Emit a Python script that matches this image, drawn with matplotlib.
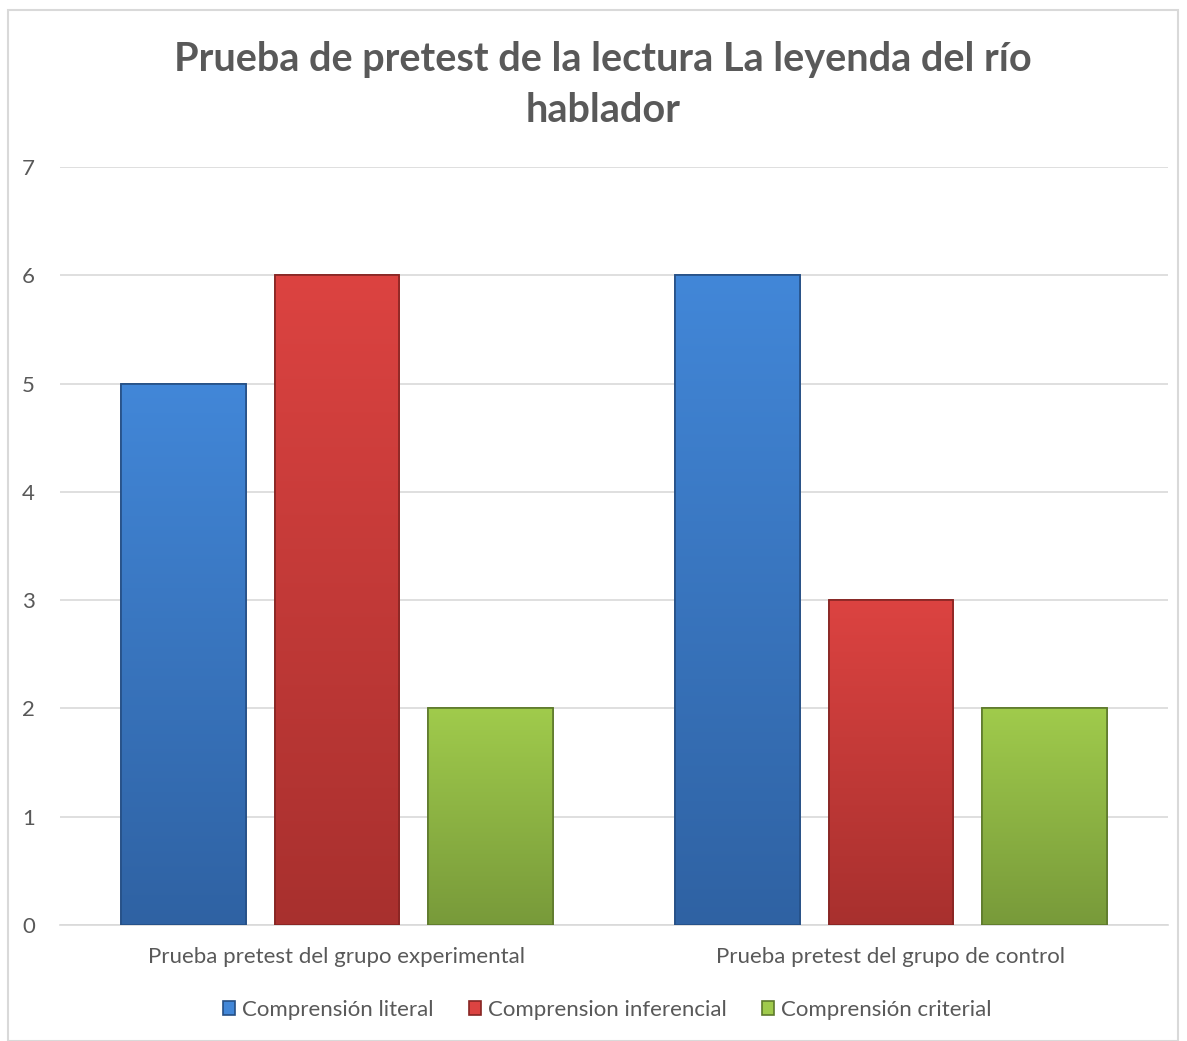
import numpy as np
import matplotlib.pyplot as plt
from matplotlib.patches import Rectangle
from matplotlib.colors import LinearSegmentedColormap

plt.rcParams['font.family'] = ['Lato', 'DejaVu Sans']

categorias = ['Prueba pretest del grupo experimental', 'Prueba pretest del grupo de control']
series = ['Comprensión literal', 'Comprension inferencial', 'Comprensión criterial']
literal = [5, 6]
inferencial = [6, 3]
criterial = [2, 2]
valores = [literal, inferencial, criterial]

# colores (arriba, abajo, borde)
colores = [('#4287d8', '#2f62a3', '#254f85'),
           ('#dc4341', '#a8302e', '#862523'),
           ('#a0cb4c', '#789a3a', '#5e7a2c')]

fig = plt.figure(figsize=(11.87, 10.41), dpi=100)
ax = fig.add_axes([60/1187, 1 - 925/1041, 1108/1187, 758/1041])

x = np.arange(len(categorias))
ancho = 0.224
paso = 0.277

handles = []
for i, (vals, nombre) in enumerate(zip(valores, series)):
    top, bottom, edge = colores[i]
    bars = ax.bar(x + (i - 1) * paso, vals, ancho, color=top, edgecolor=edge,
                  linewidth=1.2, label=nombre, zorder=3)
    grad = np.linspace(0, 1, 256).reshape(-1, 1)
    cmap = LinearSegmentedColormap.from_list('g%d' % i, [bottom, top])
    for b in bars:
        bx, by = b.get_x(), b.get_y()
        w, h = b.get_width(), b.get_height()
        im = ax.imshow(grad, cmap=cmap, aspect='auto', origin='lower',
                       extent=[bx, bx + w, by, by + h], zorder=3.5)
        im.set_clip_path(b)
        ax.add_patch(Rectangle((bx, by), w, h, fill=False, edgecolor=edge,
                               linewidth=1.2, zorder=4))
    handles.append(bars)

ax.set_xlim(-0.5, 1.5)
ax.set_ylim(0, 7)
ax.set_yticks(range(0, 8))
ax.yaxis.grid(True, color='#d9d9d9', linewidth=1.2, zorder=0)
ax.set_axisbelow(True)
for s in ['top', 'right', 'left']:
    ax.spines[s].set_visible(False)
ax.spines['bottom'].set_color('#d9d9d9')
ax.spines['bottom'].set_linewidth(1.2)
ax.tick_params(axis='both', length=0, labelsize=16, labelcolor='#595959')
ax.tick_params(axis='y', pad=18)
ax.tick_params(axis='x', pad=16)
ax.set_xticks(x)
ax.set_xticklabels(categorias)

fig.text(603/1187, 1 - 60/1041, 'Prueba de pretest de la lectura La leyenda del río', ha='center',
         va='center', fontsize=28.5, fontweight='bold', color='#595959')
fig.text(603/1187, 1 - 110/1041, 'hablador', ha='center', va='center', fontsize=28.5,
         fontweight='bold', color='#595959')

leg = fig.legend(handles=handles, labels=series, loc='center', ncol=3,
                 bbox_to_anchor=(607/1187, 1 - 1010/1041), frameon=False, fontsize=16,
                 handlelength=0.55, handleheight=0.55, handletextpad=0.3, columnspacing=1.6)
for t in leg.get_texts():
    t.set_color('#595959')

fig.add_artist(Rectangle((8/1187, 0), 1170/1187, 1 - 10/1041, transform=fig.transFigure,
                         fill=False, edgecolor='#d9d9d9', linewidth=1.5))

fig.savefig('out.png', dpi=100)
